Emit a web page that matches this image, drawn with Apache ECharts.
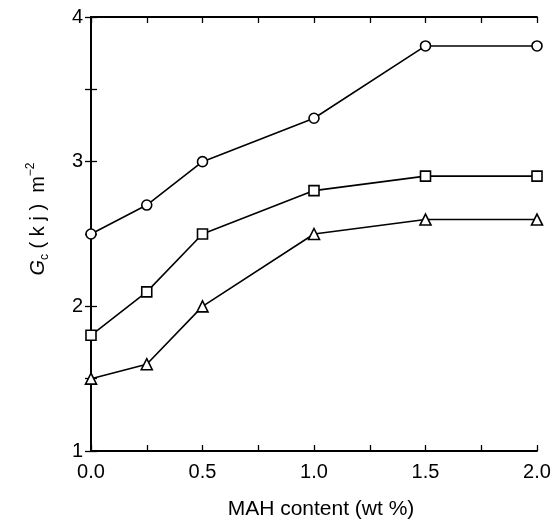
<!DOCTYPE html>
<html><head><meta charset="utf-8">
<script src="https://cdn.jsdelivr.net/npm/echarts@6/dist/echarts.min.js"></script>
<style>html,body{margin:0;padding:0;background:#fff}#c{width:556px;height:525px}</style>
</head><body><div id="c"></div>
<script>
const xValues = [0, 0.25, 0.5, 1.0, 1.5, 2.0];
const circleSeries = [2.5, 2.7, 3.0, 3.3, 3.8, 3.8];
const squareSeries = [1.8, 2.1, 2.5, 2.8, 2.9, 2.9];
const triangleSeries = [1.5, 1.6, 2.0, 2.5, 2.6, 2.6];
const xTickLabels = ['0.0', '0.5', '1.0', '1.5', '2.0'];
const yTickLabels = ['1', '2', '3', '4'];

const chart = echarts.init(document.getElementById('c'));
const font = 'Liberation Sans, Arial, sans-serif';
const axisLine = {show: true, lineStyle: {color: '#000', width: 1.8}};
const tick = {show: true, inside: true, length: 6, lineStyle: {color: '#000', width: 1.3}};
function mk(vals, sym) {
  return {
    type: 'line',
    data: xValues.map((x, i) => [x, vals[i]]),
    symbol: sym, symbolSize: sym === 'triangle' ? 11 : 10,
    lineStyle: {color: '#000', width: 1.6},
    itemStyle: {color: '#fff', borderColor: '#000', borderWidth: 1.6},
    z: 3
  };
}
chart.setOption({
  animation: false,
  backgroundColor: '#fff',
  grid: {left: 91, right: 19, top: 17, bottom: 72},
  xAxis: [{
    type: 'value', min: 0, max: 2, interval: 0.25,
    axisLine, axisTick: tick, splitLine: {show: false},
    axisLabel: {
      color: '#000', fontSize: 20, fontFamily: font, margin: 11,
      formatter: v => {
        const s = v.toFixed(1);
        return (Math.abs(v * 2 - Math.round(v * 2)) < 1e-6 && xTickLabels.includes(s)) ? s : '';
      }
    },
    name: 'MAH content (wt %)', nameLocation: 'middle', nameGap: 48,
    nameTextStyle: {color: '#000', fontSize: 21, fontFamily: font, padding: [0, 0, 0, 14]}
  }, {
    type: 'value', min: 0, max: 2, interval: 0.25, position: 'top',
    axisLine, axisTick: tick, axisLabel: {show: false}, splitLine: {show: false}
  }],
  yAxis: [{
    type: 'value', min: 1, max: 4, interval: 0.5,
    axisLine, axisTick: tick, splitLine: {show: false},
    axisLabel: {
      color: '#000', fontSize: 20, fontFamily: font, margin: 8,
      formatter: v => { const s = String(v); return yTickLabels.includes(s) ? s : ''; }
    },
    name: '{i|G}{sub|c}{n| ( k j )  m}{sup|−2}', nameLocation: 'middle', nameGap: 40,
    nameTextStyle: {
      color: '#000', fontSize: 20, fontFamily: font, padding: [0, 0, 0, 30],
      rich: {
        i: {fontSize: 20, fontStyle: 'italic', fontFamily: font, color: '#000', verticalAlign: 'middle', lineHeight: 26},
        sub: {fontSize: 12, fontFamily: font, color: '#000', verticalAlign: 'bottom', lineHeight: 26},
        n: {fontSize: 20, fontFamily: font, color: '#000', verticalAlign: 'middle', lineHeight: 26},
        sup: {fontSize: 12, fontFamily: font, color: '#000', verticalAlign: 'top', lineHeight: 26}
      }
    }
  }, {
    type: 'value', min: 1, max: 4, interval: 0.5, position: 'right',
    axisLine, axisTick: tick, axisLabel: {show: false}, splitLine: {show: false}
  }],
  series: [mk(circleSeries, 'circle'), mk(squareSeries, 'rect'), mk(triangleSeries, 'triangle')]
});
</script></body></html>
